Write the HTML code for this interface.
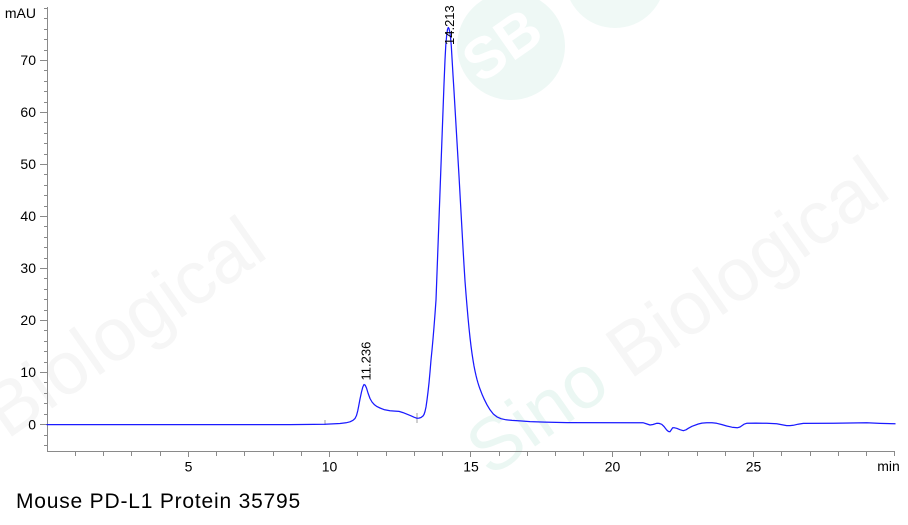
<!DOCTYPE html>
<html>
<head>
<meta charset="utf-8">
<style>
  html, body { margin: 0; padding: 0; background: #ffffff; }
  body { width: 908px; height: 525px; overflow: hidden; }
  svg { display: block; }
  .lab { font-family: "Liberation Sans", Arial, sans-serif; font-size: 14px; fill: #000; }
  .pk { font-family: "Liberation Sans", Arial, sans-serif; font-size: 13px; fill: #000; }
  .wm { font-family: "Liberation Sans", Arial, sans-serif; font-size: 75px; }
</style>
</head>
<body>
<svg width="908" height="525" viewBox="0 0 908 525" xmlns="http://www.w3.org/2000/svg">
  <!-- watermarks -->
  <circle cx="511" cy="46" r="54" fill="#eef8f5"/>
  <circle cx="615" cy="-22" r="50" fill="#f0f9f6"/>
  <text x="0" y="20" transform="translate(502,45) rotate(-35)" text-anchor="middle" font-family="Liberation Sans, Arial, sans-serif" font-size="58" font-weight="bold" fill="#ffffff">SB</text>
  <text class="wm" transform="translate(-133,538) rotate(-35)"><tspan fill="#ebf7f3">Sino </tspan><tspan fill="#f6f6f6">Biological</tspan></text>
  <text class="wm" transform="translate(490,478) rotate(-35)"><tspan fill="#ebf7f3">Sino </tspan><tspan fill="#f6f6f6">Biological</tspan></text>

  <!-- axes -->
  <g stroke="#8a8a8a" stroke-width="1" fill="none" shape-rendering="crispEdges">
    <line x1="47.5" y1="7" x2="47.5" y2="452"/>
    <line x1="47" y1="451.5" x2="895" y2="451.5"/>
    <path d="M44 8.5H47 M44 18.5H47 M44 29.5H47 M44 39.5H47 M44 50.5H47 M40 60.5H47 M44 70.5H47 M44 81.5H47 M44 91.5H47 M44 102.5H47 M40 112.5H47 M44 122.5H47 M44 133.5H47 M44 143.5H47 M44 154.5H47 M40 164.5H47 M44 174.5H47 M44 185.5H47 M44 195.5H47 M44 206.5H47 M40 216.5H47 M44 226.5H47 M44 237.5H47 M44 247.5H47 M44 258.5H47 M40 268.5H47 M44 278.5H47 M44 289.5H47 M44 299.5H47 M44 310.5H47 M40 320.5H47 M44 330.5H47 M44 341.5H47 M44 351.5H47 M44 362.5H47 M40 372.5H47 M44 382.5H47 M44 393.5H47 M44 403.5H47 M44 414.5H47 M40 424.5H47 M44 435.5H47 M44 445.5H47"/>
    <path d="M75.5 452V456 M103.5 452V456 M131.5 452V456 M160.5 452V456 M188.5 452V457 M216.5 452V456 M244.5 452V456 M273.5 452V456 M301.5 452V456 M329.5 452V457 M357.5 452V456 M386.5 452V456 M414.5 452V456 M442.5 452V456 M470.5 452V457 M499.5 452V456 M527.5 452V456 M555.5 452V456 M583.5 452V456 M612.5 452V457 M640.5 452V456 M668.5 452V456 M697.5 452V456 M725.5 452V456 M753.5 452V457 M781.5 452V456 M810.5 452V456 M838.5 452V456 M866.5 452V456 M894.5 452V456"/>
  </g>

  <!-- y labels -->
  <g class="lab" text-anchor="end">
    <text x="36" y="18">mAU</text>
    <text x="36" y="65">70</text>
    <text x="36" y="117">60</text>
    <text x="36" y="169">50</text>
    <text x="36" y="221">40</text>
    <text x="36" y="273">30</text>
    <text x="36" y="325">20</text>
    <text x="36" y="377">10</text>
    <text x="36" y="429.5">0</text>
  </g>
  <!-- x labels -->
  <g class="lab" text-anchor="middle">
    <text x="188.5" y="471.5">5</text>
    <text x="329.5" y="471.5">10</text>
    <text x="471" y="471.5">15</text>
    <text x="612.5" y="471.5">20</text>
    <text x="753.5" y="471.5">25</text>
    <text x="888.5" y="471">min</text>
  </g>

  <!-- integration markers -->
  <g stroke="#a0a0a0" stroke-width="1">
    <line x1="417" y1="413" x2="417" y2="423"/>
    <line x1="325" y1="420" x2="325" y2="425"/>
  </g>

  <!-- trace -->
  <path fill="none" stroke="#1a1aff" stroke-width="1.25" stroke-linejoin="round" stroke-linecap="round"
    d="M47,424.6 L290,424.6 L325,424.3 L340,423.5 L346,422.8 L350,421.8 L353,420.3 L355,418.5 L356.5,415.5 L357.7,411 L358.7,406 L360,399 L361.5,392 L362.8,387 L364,384.5 L365.2,385.2 L366.5,388 L368,393 L370,398.5 L372,402 L374.5,404.8 L377,406.6 L380,408 L384,409.6 L390,410.8 L395,411.1 L399,411.4 L403,412.6 L407,414.2 L411,415.8 L414,417.2 L416.7,418.2 L419,418.1 L421,417.5 L423,416 L424,414.5 L425,411.5 L426,407 L427,400 L428,392 L429,383 L430,372 L431,360 L432,350 L433,339 L434,327 L435,314 L436,300 L437,273 L438,246 L439,219 L440,192 L441,165 L442,138 L443,111 L444,84 L445,60 L445.8,45 L446.7,35 L447.5,29.5 L448.3,27.5 L449,28.5 L449.8,32 L450.6,38 L451.3,46 L452,58 L453,75 L454,91 L455,108 L456,125 L457,142 L458,159 L459,176 L460,194 L461,212 L462,230 L463,248 L464,265 L465,281 L466,294 L467,306 L468,317.5 L469,328 L470,337.5 L471,346 L472,353.5 L473,360 L474,366 L475,371 L476,375.5 L477,379.5 L478,383 L479,386.2 L480,389 L482,394.2 L484,398.8 L487,404.8 L490,409.8 L493.3,414 L497,416.9 L501,418.7 L506,419.8 L512,420.4 L520,420.9 L530,421.6 L545,422.1 L567,422.6 L643,422.7 L647,424 L650,425 L653,424.5 L656.7,423.3 L659,423.4 L661.7,424.3 L664,426.5 L666.7,430 L668.5,431.5 L670,431.7 L671.5,429.5 L672.7,427.7 L674.5,427.8 L676.7,428.3 L680,429.7 L683.3,430.7 L686,429.8 L688.3,428.3 L692,426.3 L698.3,424 L702,423.1 L706.7,422.7 L712,422.8 L716.7,423.3 L722,424.6 L726.7,426 L732,427.2 L737.3,427.8 L740,427 L742,425.6 L744,424.2 L746.7,423.3 L756,423.1 L766.7,423.3 L776.7,423.7 L782,424.7 L786.7,425.6 L790,425.6 L793.3,425.3 L798,424.2 L803.3,423.4 L833.3,423.3 L866.7,422.8 L880,423.4 L895,423.8"/>

  <!-- peak labels -->
  <text class="pk" transform="translate(370.5,380.5) rotate(-90)">11.236</text>
  <text class="pk" transform="translate(454,45) rotate(-90)">14.213</text>

  <!-- title -->
  <text x="16" y="508" font-family="Liberation Sans, Arial, sans-serif" font-size="21" letter-spacing="0.8" fill="#000">Mouse PD-L1 Protein 35795</text>
</svg>
</body>
</html>
